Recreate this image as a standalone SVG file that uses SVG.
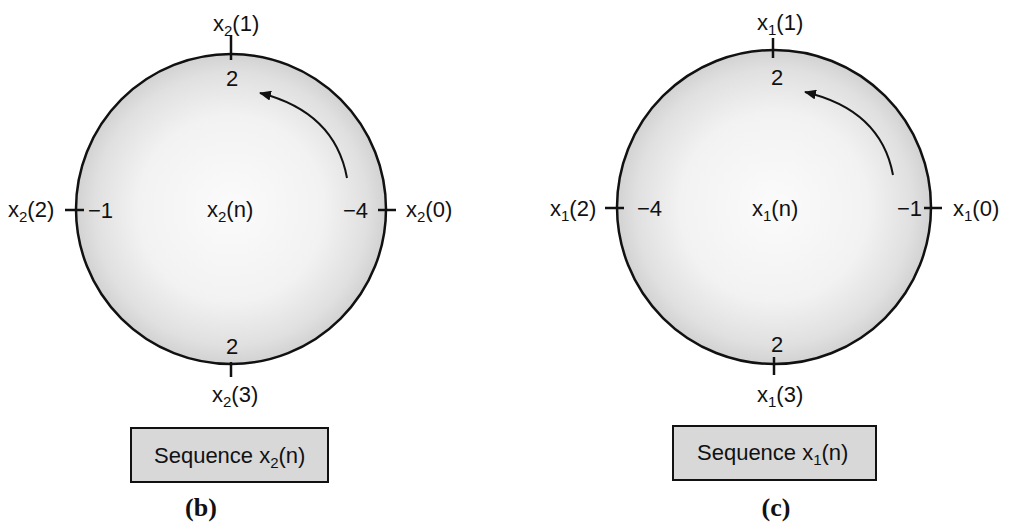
<svg xmlns="http://www.w3.org/2000/svg" width="1010" height="531" viewBox="0 0 1010 531">
<style>
.lbl{font-family:"Liberation Sans",Arial,sans-serif;font-size:22px;fill:#111}
.sub{font-size:15px}
.cap{font-family:"Liberation Serif","Times New Roman",serif;font-size:26px;font-weight:bold;fill:#111}
.ring{fill:url(#shade);stroke:#111;stroke-width:2.5}
.tick{stroke:#111;stroke-width:2.5}
.arc{fill:none;stroke:#111;stroke-width:2}
.box{fill:#d8d8d8;stroke:#111;stroke-width:2}
</style>
<defs>
<radialGradient id="shade" cx="0.5" cy="0.5" r="0.5">
<stop offset="0" stop-color="#fbfbfb"/>
<stop offset="0.6" stop-color="#f2f2f2"/>
<stop offset="0.88" stop-color="#e0e0e0"/>
<stop offset="1" stop-color="#d2d2d2"/>
</radialGradient>
<marker id="ah" viewBox="0 0 12 10" refX="11" refY="5" markerWidth="12" markerHeight="10" markerUnits="userSpaceOnUse" orient="auto">
<path d="M0,0 L12,5 L0,10 Z" fill="#111"/>
</marker>
</defs>
<rect width="1010" height="531" fill="#ffffff"/>

<g id="circle-b">
<circle class="ring" cx="231" cy="209" r="155"/>
<line class="tick" x1="231" y1="35" x2="231" y2="60"/>
<line class="tick" x1="65" y1="210" x2="84" y2="210"/>
<line class="tick" x1="378" y1="210" x2="396" y2="210"/>
<line class="tick" x1="231" y1="362" x2="231" y2="377"/>
<text class="lbl" x="213" y="31">x<tspan class="sub" dy="5">2</tspan><tspan dy="-5">(1)</tspan></text>
<text class="lbl" x="226" y="86">2</text>
<text class="lbl" x="8" y="217">x<tspan class="sub" dy="5">2</tspan><tspan dy="-5">(2)</tspan></text>
<text class="lbl" x="113" y="218" text-anchor="end">−1</text>
<text class="lbl" x="207" y="217">x<tspan class="sub" dy="5">2</tspan><tspan dy="-5">(n)</tspan></text>
<text class="lbl" x="368" y="218" text-anchor="end">−4</text>
<text class="lbl" x="406" y="217">x<tspan class="sub" dy="5">2</tspan><tspan dy="-5">(0)</tspan></text>
<text class="lbl" x="226" y="354">2</text>
<text class="lbl" x="212" y="402">x<tspan class="sub" dy="5">2</tspan><tspan dy="-5">(3)</tspan></text>
</g>

<g id="box-b">
<rect class="box" x="131" y="428" width="197" height="54"/>
<text class="lbl" x="154" y="463">Sequence x<tspan class="sub" dy="5">2</tspan><tspan dy="-5">(n)</tspan></text>
</g>
<text class="cap" x="201" y="516" text-anchor="middle">(b)</text>

<g id="circle-c">
<circle class="ring" cx="774" cy="207" r="157"/>
<line class="tick" x1="773" y1="38" x2="773" y2="58"/>
<line class="tick" x1="605" y1="208" x2="624" y2="208"/>
<line class="tick" x1="924" y1="208" x2="942" y2="208"/>
<line class="tick" x1="774" y1="357" x2="774" y2="375"/>
<text class="lbl" x="757" y="30">x<tspan class="sub" dy="5">1</tspan><tspan dy="-5">(1)</tspan></text>
<text class="lbl" x="771" y="85">2</text>
<text class="lbl" x="550" y="216">x<tspan class="sub" dy="5">1</tspan><tspan dy="-5">(2)</tspan></text>
<text class="lbl" x="662" y="216" text-anchor="end">−4</text>
<text class="lbl" x="752" y="216">x<tspan class="sub" dy="5">1</tspan><tspan dy="-5">(n)</tspan></text>
<text class="lbl" x="922" y="216" text-anchor="end">−1</text>
<text class="lbl" x="953" y="216">x<tspan class="sub" dy="5">1</tspan><tspan dy="-5">(0)</tspan></text>
<text class="lbl" x="771" y="352">2</text>
<text class="lbl" x="757" y="402">x<tspan class="sub" dy="5">1</tspan><tspan dy="-5">(3)</tspan></text>
</g>

<g id="box-c">
<rect class="box" x="673" y="426" width="203" height="54"/>
<text class="lbl" x="697" y="460">Sequence x<tspan class="sub" dy="5">1</tspan><tspan dy="-5">(n)</tspan></text>
</g>
<text class="cap" x="776" y="516" text-anchor="middle">(c)</text>

<g id="connectors">
<path class="arc" d="M347,178 Q335,112 260,93" marker-end="url(#ah)"/>
<path class="arc" d="M893,175 Q881,110 805,92" marker-end="url(#ah)"/>
</g>
</svg>
